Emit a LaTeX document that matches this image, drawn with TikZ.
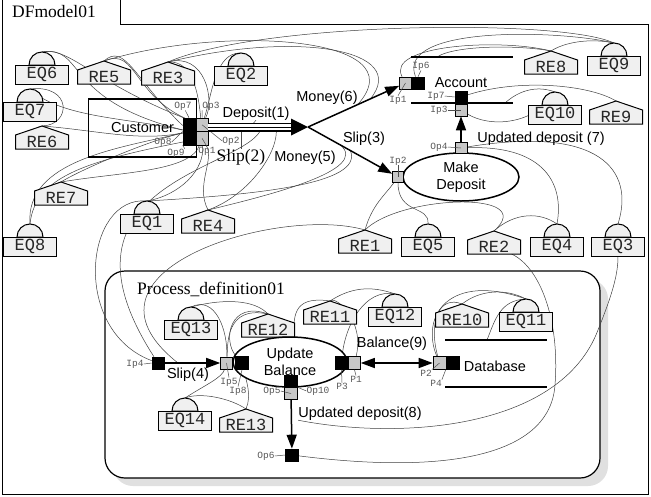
\documentclass[tikz,border=0pt]{standalone}
\usepackage{fontspec}
\setmainfont{Liberation Serif}
\setsansfont{Liberation Sans}
\setmonofont{Liberation Mono}
\usetikzlibrary{arrows.meta,shapes.geometric,calc}
\pgfdeclarelayer{back}
\pgfdeclarelayer{bg}
\pgfsetlayers{back,bg,main}
\tikzset{
  wire/.style={line width=0.5pt, black!75},
  iconline/.style={draw=black, line width=1pt, fill=black!6},
  icontext/.style={font=\fontsize{17}{17}\ttfamily, text=black!85, inner sep=0pt},
  eqbox/.style={draw=black, line width=1pt, fill=black!6, minimum width=53pt, minimum height=19pt, inner sep=0pt, font=\fontsize{17}{17}\ttfamily, text=black!85},
  bport/.style={draw=black, fill=black, minimum width=12pt, minimum height=12pt, inner sep=0pt, line width=0.6pt},
  gport/.style={draw=black, fill=black!22, minimum width=12pt, minimum height=12pt, inner sep=0pt, line width=0.6pt},
  plabel/.style={font=\fontsize{9.5}{9.5}\ttfamily, text=black!65, inner sep=0pt},
  ptick/.style={line width=0.5pt, black!70},
  flowlabel/.style={font=\fontsize{14.5}{17}\sffamily, inner sep=0pt, align=center},
  serlabel/.style={font=\fontsize{17.5}{17.5}\rmfamily, inner sep=0pt},
  flow/.style={line width=1.5pt, -{Triangle[length=14pt,width=10pt]}},
  proc/.style={ellipse, draw, line width=1.5pt, fill=white, inner sep=0pt, font=\fontsize{14.5}{17}\sffamily, align=center},
}
\newcommand{\EQicon}[4]{%
  \filldraw[iconline] (#2-13,#3) .. controls (#2-13,#3-7.2) and (#2-7.2,#3-13) .. (#2,#3-13) .. controls (#2+7.2,#3-13) and (#2+13,#3-7.2) .. (#2+13,#3) -- cycle;
  \node[eqbox] (#1) at (#2,#3+9.5) {#4};
  \coordinate (#1-t) at (#2,#3-13);
}
\newcommand{\REicon}[4]{%
  \filldraw[iconline] (#2-26.5,#3) -- (#2-26.5,#3-14) -- (#2,#3-23) -- (#2+26.5,#3-14) -- (#2+26.5,#3) -- cycle;
  \node[icontext] (#1) at (#2,#3-7) {#4};
  \coordinate (#1-t) at (#2,#3-23);
}
\begin{document}
\begin{tikzpicture}[x=1pt,y=-1pt]
\useasboundingbox (0,0) rectangle (651,496);
\begin{pgfonlayer}{back}
\fill[white] (0,0) rectangle (651,496);
\draw[line width=0.8pt] (120,0) -- (120,24) -- (648,24) -- (648,494) -- (2,494) -- (2,0);
\fill[black!12, rounded corners=20pt] (113,279) rectangle (608,486);
\draw[line width=1.2pt, fill=white, rounded corners=20pt] (105,271) rectangle (600,478);
\end{pgfonlayer}

\node[serlabel, anchor=base west] (title) at (12,17.5) {DFmodel01};
\node[serlabel, anchor=base west] (ptitle) at (137,294) {Process\_definition01};

% icons
\EQicon{eq6}{42}{65}{EQ6}
\EQicon{eq2}{241}{66}{EQ2}
\EQicon{eq7}{30}{102}{EQ7}
\EQicon{eq8}{30}{237}{EQ8}
\EQicon{eq1}{147}{214}{EQ1}
\EQicon{eq9}{614}{56}{EQ9}
\EQicon{eq10}{555}{105}{EQ10}
\EQicon{eq5}{428}{237}{EQ5}
\EQicon{eq4}{557}{237}{EQ4}
\EQicon{eq3}{618}{237}{EQ3}
\EQicon{eq13}{191}{320}{EQ13}
\EQicon{eq12}{395}{307}{EQ12}
\EQicon{eq11}{526}{312}{EQ11}
\EQicon{eq14}{185}{411}{EQ14}
\REicon{re5}{104}{84}{RE5}
\REicon{re3}{168}{85}{RE3}
\REicon{re6}{42}{149}{RE6}
\REicon{re7}{61}{205}{RE7}
\REicon{re4}{208}{233}{RE4}
\REicon{re8}{551}{74}{RE8}
\REicon{re9}{616}{124}{RE9}
\REicon{re1}{365}{253}{RE1}
\REicon{re2}{494}{254}{RE2}
\REicon{re12}{268}{337}{RE12}
\REicon{re11}{330}{324}{RE11}
\REicon{re10}{462}{327}{RE10}
\REicon{re13}{246}{432}{RE13}

% processes and entities
\node[draw, line width=1.5pt, minimum width=108pt, minimum height=58pt, inner sep=0pt, font=\fontsize{14.5}{17}\sffamily] (cust) at (142.5,128) {Customer};
\node[proc, minimum width=116pt, minimum height=48pt] (md) at (461,177) {Make\\Deposit};
\node[proc, minimum width=114pt, minimum height=50pt] (ub) at (290,362) {Update\\Balance};

% data stores
\draw[line width=1.5pt] (411,57) coordinate (acctop0) -- (513,57);
\draw[line width=1.5pt] (411,103) -- (513,103);
\draw[line width=1.5pt] (445,340) -- (547,340);
\draw[line width=1.5pt] (445,387) -- (547,387);
\coordinate (acctop) at (437,57);
\coordinate (accbot) at (505,103);
\coordinate (dbtop) at (487,340);

% ports
\node[bport, minimum height=27pt] (cb) at (189,131.5) {};
\node[gport, minimum height=13.5pt] (c3) at (202,124.75) {};
\node[gport, minimum height=13.5pt] (c1) at (202,138.25) {};
\node[gport] (ip1) at (405.5,83) {};
\node[bport] (ip6) at (418,83) {};
\node[bport] (ip7) at (461,97) {};
\node[gport] (ip3) at (461,110) {};
\node[gport, minimum height=11pt] (op4) at (461,148) {};
\node[gport, minimum size=11pt] (ip2) at (398,177) {};
\node[bport] (ip4) at (158,363) {};
\node[gport] (ip5) at (226.5,363) {};
\node[bport, minimum size=13pt] (ip8) at (242,363) {};
\node[bport, minimum width=13pt] (op10) at (291,381) {};
\node[gport, minimum width=13pt] (op5) at (291,393.5) {};
\node[bport, minimum width=13pt] (op6) at (292,455) {};
\node[bport, minimum size=13pt] (p3) at (341.5,363) {};
\node[gport, minimum height=13pt] (p1) at (354.5,363) {};
\node[gport, minimum size=13pt] (p2) at (439.5,363) {};
\node[bport, minimum size=13pt] (p4) at (452.5,363) {};

% flow helper coordinates
\coordinate (fork) at (308,127);
\coordinate (thend) at (293,127);
\coordinate (mon6a) at ($(fork)!0.64!(ip1)$);
\coordinate (mon6b) at ($(fork)!0.51!(ip1)$);
\coordinate (slip3a) at ($(fork)!0.47!(ip2)$);
\coordinate (slip3b) at ($(fork)!0.36!(ip2)$);
\coordinate (thk1) at (262,127);
\coordinate (thk2) at (276,127);
\coordinate (s4start) at (178,363);

% flow labels
\node[flowlabel, anchor=base] (lDep1) at (256,117) {Deposit(1)};
\node[serlabel, anchor=base] (lSlip2) at (241,161) {Slip(2)};
\node[flowlabel, anchor=base] (lMon5) at (305,161) {Money(5)};
\node[flowlabel, anchor=base] (lMon6) at (327,101) {Money(6)};
\node[flowlabel, anchor=base] (lSlip3) at (364,142) {Slip(3)};
\node[flowlabel, anchor=base] (lAcc) at (461,87) {Account};
\node[flowlabel, anchor=base] (lUd7) at (541,142) {Updated deposit (7)};
\node[flowlabel, anchor=base] (lSlip4) at (188,378) {Slip(4)};
\node[flowlabel, anchor=base] (lUd8) at (360,417) {Updated deposit(8)};
\node[flowlabel, anchor=base] (lBal9) at (392,347.5) {Balance(9)};
\node[flowlabel, anchor=base] (lDb) at (495,371) {Database};

% port labels
\node[plabel] (lOp7) at (183,106) {Op7};
\node[plabel] (lOp3) at (211,106) {Op3};
\node[plabel] (lOp2) at (231,141) {Op2};
\node[plabel] (lOp1) at (207,151) {Op1};
\node[plabel] (lOp8) at (163,142) {Op8};
\node[plabel] (lOp9) at (176,153) {Op9};
\node[plabel] (lIp6) at (421,66) {Ip6};
\node[plabel] (lIp1) at (398,100) {Ip1};
\node[plabel] (lIp7) at (436,96) {Ip7};
\node[plabel] (lIp3) at (439,110) {Ip3};
\node[plabel] (lOp4) at (439,147) {Op4};
\node[plabel] (lIp2) at (398,161) {Ip2};
\node[plabel] (lIp4) at (135,364) {Ip4};
\node[plabel] (lIp5) at (229,382) {Ip5};
\node[plabel] (lIp8) at (238,391) {Ip8};
\node[plabel] (lOp5) at (272,391) {Op5};
\node[plabel] (lOp10) at (318,391) {Op10};
\node[plabel] (lOp6) at (266,456) {Op6};
\node[plabel] (lP3) at (342,386) {P3};
\node[plabel] (lP1) at (356,379) {P1};
\node[plabel] (lP2) at (426,373) {P2};
\node[plabel] (lP4) at (436,383) {P4};

% thin constraint wires
\begin{pgfonlayer}{bg}
\draw[wire] (eq6-t) .. controls (85,45) and (62,100) .. (cb);
\draw[wire] (eq6-t) .. controls (70,46) and (95,85) .. (c3);
\draw[wire] (eq7-t) .. controls (72,84) and (72,125) .. (re6-t);
\draw[wire] (eq7-t) .. controls (60,118) and (130,118) .. (cb);
\draw[wire] (re6-t) .. controls (95,130) and (140,142) .. (cb);
\draw[wire] (re5-t) .. controls (125,42) and (135,80) .. (cb);
\draw[wire] (re5-t) .. controls (138,46) and (132,100) .. (c3);
\draw[wire] (re3-t) .. controls (205,52) and (215,100) .. (c3);
\draw[wire] (re3-t) .. controls (195,60) and (200,100) .. (c1);
\draw[wire] (eq2-t) .. controls (215,52) and (212,95) .. (c3);
\draw[wire] (re3-t) .. controls (260,22) and (560,18) .. (eq9-t);
\draw[wire] (re3-t) .. controls (300,30) and (410,50) .. (mon6a);
\draw[wire] (re5-t) .. controls (220,25) and (420,35) .. (mon6b);
\draw[wire] (re7-t) .. controls (120,172) and (190,172) .. (c1);
\draw[wire] (re7-t) .. controls (80,170) and (150,140) .. (cb);
\draw[wire] (eq8-t) .. controls (25,160) and (120,148) .. (cb);
\draw[wire] (eq8-t) .. controls (35,175) and (90,160) .. (c1);
\draw[wire] (eq1-t) .. controls (180,195) and (205,170) .. (c1);
\draw[wire] (eq1-t) .. controls (250,195) and (365,185) .. (slip3a);
\draw[wire] (re4-t) .. controls (195,185) and (215,160) .. (c1);
\draw[wire] (re4-t) .. controls (270,195) and (370,170) .. (slip3b);
\draw[wire] (re4-t) .. controls (250,195) and (280,150) .. (thk2);
\draw[wire] (eq1-t) .. controls (85,195) and (70,330) .. (ip4);
\draw[wire] (re1-t) .. controls (280,205) and (60,270) .. (s4start);
\draw[wire] (thk1) .. controls (250,170) and (40,180) .. (ip4);
% account
\draw[wire] (ip6) .. controls (395,25) and (560,30) .. (eq9-t);
\draw[wire] (ip1) .. controls (385,45) and (500,38) .. (re8-t);
\draw[wire] (re8-t) .. controls (565,42) and (590,38) .. (eq9-t);
\draw[wire] (acctop) .. controls (455,45) and (520,45) .. (re8-t);
\draw[wire] (ip7) .. controls (520,78) and (590,85) .. (re9-t);
\draw[wire] (accbot) .. controls (525,85) and (545,88) .. (eq10-t);
\draw[wire] (ip3) .. controls (490,128) and (535,125) .. (eq10-t);
\draw[wire] (op4) .. controls (540,145) and (565,180) .. (eq4-t);
\draw[wire] (op4) .. controls (600,125) and (635,170) .. (eq3-t);
\draw[wire] (ip2) .. controls (398,215) and (430,205) .. (eq5-t);
\draw[wire] (re1-t) .. controls (372,205) and (385,195) .. (ip2);
\draw[wire] (re1-t) .. controls (400,195) and (540,190) .. (re2-t);
\draw[wire] (re2-t) .. controls (515,212) and (540,212) .. (eq4-t);
% process definition
\draw[wire] (op6) .. controls (450,475) and (550,455) .. (555,385) .. controls (560,320) and (540,265) .. (re2);
\draw[wire] (lUd8.south west) .. controls (400,440) and (560,430) .. (598,330) .. controls (612,295) and (618,275) .. (eq3.south);
\draw[wire] (p2) .. controls (420,315) and (450,272) .. (eq11-t);
\draw[wire] (p2) .. controls (428,320) and (440,295) .. (re10-t);
\draw[wire] (re10-t) .. controls (480,290) and (505,288) .. (eq11-t);
\draw[wire] (dbtop) .. controls (495,320) and (500,300) .. (eq11-t);
\draw[wire] (eq13-t) .. controls (215,295) and (228,330) .. (ip5);
\draw[wire] (eq13-t) .. controls (225,298) and (255,300) .. (re12-t);
\draw[wire] (re12-t) .. controls (230,300) and (222,340) .. (ip8);
\draw[wire] (re12-t) .. controls (225,305) and (228,345) .. (ip5);
\draw[wire] (re11-t) .. controls (290,295) and (295,320) .. (ub);
\draw[wire] (re11-t) .. controls (350,288) and (370,285) .. (eq12-t);
\draw[wire] (eq12-t) .. controls (365,288) and (345,325) .. (p3);
\draw[wire] (re11-t) .. controls (335,295) and (365,320) .. (p1);
\draw[wire] (eq14-t) .. controls (205,385) and (222,378) .. (ip5);
\draw[wire] (re13-t) .. controls (252,395) and (246,380) .. (ip8);
\draw[wire] (re13-t) .. controls (230,398) and (200,392) .. (eq14-t);
\end{pgfonlayer}

% port label ticks
\draw[ptick] (lOp7) -- (cb.north);
\draw[ptick] (lOp3.south west) -- (c3.north);
\draw[ptick] (lOp2.west) -- (c3.center);
\draw[ptick] (lOp1.north) -- (c1.center);
\draw[ptick] (lOp8.east) -- (cb.west);
\draw[ptick] (lOp9.north east) -- (cb.south west);
\draw[ptick] (lIp6.south) -- (ip6.north);
\draw[ptick] (lIp1.north) -- (ip1.center);
\draw[ptick] (lIp7.east) -- (ip7.west);
\draw[ptick] (lIp3.east) -- (ip3.center);
\draw[ptick] (lOp4.east) -- (op4.center);
\draw[ptick] (lIp2.south) -- (ip2.center);
\draw[ptick] (lIp4.east) -- (ip4.west);
\draw[ptick] (lIp5.north) -- (ip5.center);
\draw[ptick] (lIp8.north) -- (ip8.south);
\draw[ptick] (lOp5.east) -- (op5.center);
\draw[ptick] (lOp10.west) -- (op10.south east);
\draw[ptick] (lOp6.east) -- (op6.west);
\draw[ptick] (lP3.north) -- (p3.south);
\draw[ptick] (lP1.north) -- (p1.south);
\draw[ptick] (lP2.north east) -- (p2.center);
\draw[ptick] (lP4.north east) -- (p4.south west);
\draw[ptick] (lDep1.south) -- ++(-6,7);
\draw[ptick] (lSlip2.north) -- ++(0,-17);

% main flows
\draw[line width=9pt] (c3.east |- fork) -- (thend);
\draw[line width=5.5pt, white] (c3.east |- fork) -- (thend);
\draw[line width=1pt] (c3.east |- fork) -- (thend);
\fill (291,118.5) -- (fork) -- (291,135.5) -- cycle;
\draw[flow] (fork) -- (ip1);
\draw[flow] (fork) -- (ip2);
\draw[flow] (op4) -- (ip3);
\draw[flow] (ip4) -- (ip5);
\draw[flow] (op5) -- (op6);
\draw[line width=1.5pt, {Triangle[length=14pt,width=10pt]}-{Triangle[length=14pt,width=10pt]}] (p1) -- (p2);
\end{tikzpicture}
\end{document}
